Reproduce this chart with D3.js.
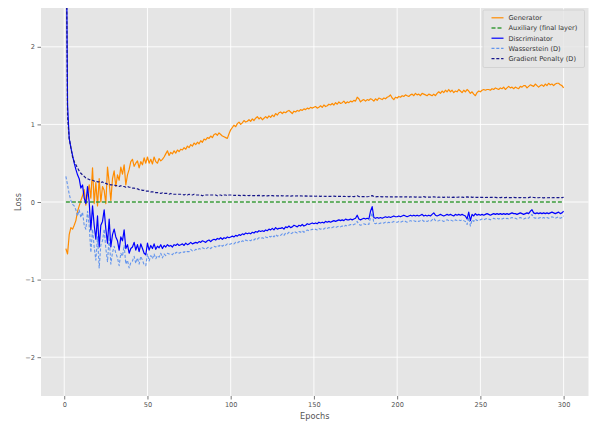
<!DOCTYPE html>
<html>
<head>
<meta charset="utf-8">
<script src="https://cdn.jsdelivr.net/npm/d3@7"></script>
<style>
  html, body { margin: 0; padding: 0; background: #ffffff; }
  svg { display: block; font-family: "DejaVu Sans", sans-serif; }
</style>
</head>
<body>
<svg id="chart" width="598" height="421"></svg>
<script>
// ---------------- DATA ----------------
const epochs = d3.range(1, 301);

const generator = [
-0.60,-0.67,-0.42,-0.33,-0.35,-0.30,-0.24,-0.12,-0.05,0.02,
0.08,0.16,-0.04,0.10,0.22,0.05,0.44,-0.02,0.25,-0.05,
0.30,0.00,0.20,0.15,-0.02,0.45,0.25,0.02,0.30,0.40,
0.20,0.35,0.28,0.45,0.36,0.48,0.22,0.35,0.42,0.52,
0.55,0.46,0.50,0.53,0.44,0.52,0.48,0.57,0.50,0.58,
0.50,0.55,0.49,0.58,0.52,0.50,0.56,0.53,0.55,0.58,
0.62,0.66,0.60,0.64,0.62,0.66,0.63,0.67,0.65,0.68,
0.67,0.70,0.68,0.72,0.70,0.74,0.72,0.76,0.74,0.77,
0.75,0.79,0.77,0.81,0.80,0.83,0.82,0.85,0.83,0.87,
0.88,0.86,0.89,0.87,0.85,0.84,0.83,0.82,0.88,0.93,
0.96,0.99,0.97,1.01,1.03,1.00,1.02,1.05,1.03,1.04,
1.06,1.04,1.07,1.05,1.08,1.10,1.07,1.09,1.06,1.08,
1.10,1.08,1.11,1.09,1.12,1.10,1.14,1.12,1.15,1.16,
1.14,1.16,1.15,1.17,1.18,1.16,1.14,1.17,1.16,1.18,
1.17,1.19,1.18,1.20,1.19,1.21,1.20,1.22,1.21,1.22,
1.23,1.21,1.22,1.24,1.22,1.25,1.23,1.24,1.26,1.25,
1.27,1.25,1.28,1.26,1.29,1.27,1.28,1.30,1.27,1.29,
1.28,1.30,1.29,1.31,1.30,1.35,1.33,1.29,1.31,1.32,
1.30,1.32,1.31,1.33,1.32,1.30,1.33,1.31,1.34,1.33,
1.32,1.34,1.33,1.35,1.36,1.38,1.34,1.32,1.35,1.34,
1.36,1.35,1.37,1.36,1.38,1.37,1.36,1.38,1.39,1.37,
1.40,1.38,1.39,1.37,1.40,1.39,1.38,1.37,1.39,1.38,
1.37,1.39,1.37,1.40,1.42,1.40,1.43,1.41,1.44,1.42,
1.45,1.42,1.44,1.41,1.43,1.42,1.45,1.43,1.41,1.44,
1.42,1.45,1.43,1.40,1.42,1.39,1.37,1.41,1.43,1.42,
1.44,1.45,1.44,1.45,1.45,1.44,1.46,1.45,1.47,1.46,
1.45,1.47,1.46,1.48,1.45,1.47,1.49,1.47,1.48,1.46,
1.48,1.47,1.46,1.49,1.48,1.50,1.50,1.47,1.49,1.51,
1.50,1.49,1.52,1.50,1.48,1.50,1.51,1.49,1.52,1.50,
1.53,1.51,1.52,1.50,1.52,1.53,1.53,1.51,1.50,1.47
];

const auxiliary = [
0,0,0,0,0,0,0,0,0,0, 0,0,0,0,0,0,0,0,0,0, 0,0,0,0,0,0,0,0,0,0,
0,0,0,0,0,0,0,0,0,0, 0,0,0,0,0,0,0,0,0,0, 0,0,0,0,0,0,0,0,0,0,
0,0,0,0,0,0,0,0,0,0, 0,0,0,0,0,0,0,0,0,0, 0,0,0,0,0,0,0,0,0,0,
0,0,0,0,0,0,0,0,0,0, 0,0,0,0,0,0,0,0,0,0, 0,0,0,0,0,0,0,0,0,0,
0,0,0,0,0,0,0,0,0,0, 0,0,0,0,0,0,0,0,0,0, 0,0,0,0,0,0,0,0,0,0,
0,0,0,0,0,0,0,0,0,0, 0,0,0,0,0,0,0,0,0,0, 0,0,0,0,0,0,0,0,0,0,
0,0,0,0,0,0,0,0,0,0, 0,0,0,0,0,0,0,0,0,0, 0,0,0,0,0,0,0,0,0,0,
0,0,0,0,0,0,0,0,0,0, 0,0,0,0,0,0,0,0,0,0, 0,0,0,0,0,0,0,0,0,0,
0,0,0,0,0,0,0,0,0,0, 0,0,0,0,0,0,0,0,0,0, 0,0,0,0,0,0,0,0,0,0,
0,0,0,0,0,0,0,0,0,0, 0,0,0,0,0,0,0,0,0,0, 0,0,0,0,0,0,0,0,0,0
];

const discriminator = [
4.20,1.25,0.82,0.70,0.60,0.50,0.42,0.35,0.30,0.18,
0.22,0.05,-0.02,0.20,0.00,-0.36,-0.05,-0.30,-0.48,-0.18,
-0.58,-0.30,-0.25,-0.10,-0.35,-0.53,-0.22,-0.58,-0.42,-0.35,
-0.45,-0.50,-0.62,-0.45,-0.50,-0.36,-0.60,-0.55,-0.66,-0.60,
-0.58,-0.52,-0.62,-0.55,-0.64,-0.54,-0.60,-0.66,-0.68,-0.53,
-0.62,-0.56,-0.60,-0.54,-0.61,-0.57,-0.59,-0.55,-0.60,-0.56,
-0.58,-0.55,-0.57,-0.56,-0.58,-0.55,-0.56,-0.54,-0.56,-0.55,
-0.54,-0.56,-0.53,-0.55,-0.54,-0.52,-0.54,-0.53,-0.52,-0.53,
-0.51,-0.52,-0.50,-0.51,-0.52,-0.50,-0.49,-0.51,-0.49,-0.48,
-0.49,-0.47,-0.48,-0.46,-0.48,-0.46,-0.47,-0.45,-0.46,-0.45,
-0.44,-0.45,-0.43,-0.44,-0.42,-0.43,-0.41,-0.42,-0.40,-0.41,
-0.40,-0.41,-0.39,-0.40,-0.38,-0.39,-0.37,-0.38,-0.37,-0.38,
-0.36,-0.37,-0.35,-0.36,-0.34,-0.36,-0.33,-0.35,-0.34,-0.34,
-0.33,-0.35,-0.32,-0.33,-0.31,-0.33,-0.32,-0.30,-0.31,-0.32,
-0.30,-0.31,-0.29,-0.31,-0.30,-0.28,-0.29,-0.28,-0.27,-0.28,
-0.27,-0.28,-0.26,-0.27,-0.26,-0.27,-0.25,-0.26,-0.25,-0.26,
-0.25,-0.24,-0.25,-0.24,-0.23,-0.24,-0.23,-0.24,-0.22,-0.23,
-0.23,-0.22,-0.23,-0.22,-0.21,-0.17,-0.22,-0.23,-0.22,-0.21,
-0.22,-0.21,-0.22,-0.12,-0.06,-0.20,-0.21,-0.20,-0.21,-0.20,
-0.21,-0.20,-0.19,-0.20,-0.19,-0.20,-0.19,-0.18,-0.19,-0.19,
-0.18,-0.19,-0.18,-0.17,-0.18,-0.19,-0.18,-0.17,-0.18,-0.17,
-0.18,-0.17,-0.18,-0.17,-0.16,-0.18,-0.17,-0.18,-0.17,-0.18,
-0.16,-0.14,-0.17,-0.18,-0.17,-0.16,-0.17,-0.18,-0.17,-0.16,
-0.17,-0.16,-0.17,-0.18,-0.16,-0.17,-0.16,-0.17,-0.16,-0.17,
-0.18,-0.22,-0.13,-0.24,-0.16,-0.18,-0.15,-0.17,-0.16,-0.17,
-0.16,-0.17,-0.16,-0.15,-0.16,-0.17,-0.16,-0.15,-0.16,-0.15,
-0.16,-0.15,-0.16,-0.15,-0.16,-0.15,-0.16,-0.15,-0.14,-0.15,
-0.15,-0.16,-0.15,-0.14,-0.15,-0.16,-0.15,-0.14,-0.15,-0.12,
-0.10,-0.14,-0.15,-0.14,-0.15,-0.14,-0.15,-0.14,-0.15,-0.14,
-0.15,-0.14,-0.13,-0.14,-0.15,-0.14,-0.13,-0.15,-0.14,-0.12
];

const wasserstein = [
0.33,0.22,0.10,0.02,-0.03,-0.05,-0.10,-0.18,-0.10,-0.20,
-0.13,-0.30,-0.35,-0.12,-0.30,-0.65,-0.35,-0.58,-0.75,-0.45,
-0.85,-0.55,-0.50,-0.35,-0.60,-0.77,-0.45,-0.80,-0.65,-0.57,
-0.66,-0.72,-0.82,-0.66,-0.70,-0.56,-0.80,-0.75,-0.85,-0.78,
-0.76,-0.70,-0.79,-0.72,-0.80,-0.70,-0.75,-0.81,-0.82,-0.67,
-0.76,-0.69,-0.73,-0.67,-0.73,-0.69,-0.71,-0.66,-0.72,-0.67,
-0.69,-0.66,-0.67,-0.67,-0.68,-0.65,-0.66,-0.64,-0.66,-0.65,
-0.64,-0.65,-0.63,-0.64,-0.64,-0.61,-0.63,-0.63,-0.61,-0.62,
-0.60,-0.61,-0.59,-0.60,-0.61,-0.59,-0.58,-0.60,-0.58,-0.57,
-0.58,-0.56,-0.57,-0.55,-0.57,-0.55,-0.56,-0.54,-0.55,-0.54,
-0.53,-0.54,-0.52,-0.53,-0.51,-0.52,-0.50,-0.51,-0.49,-0.50,
-0.49,-0.50,-0.48,-0.49,-0.47,-0.48,-0.46,-0.47,-0.46,-0.47,
-0.45,-0.46,-0.44,-0.45,-0.43,-0.45,-0.42,-0.44,-0.43,-0.43,
-0.41,-0.43,-0.40,-0.41,-0.39,-0.41,-0.40,-0.38,-0.39,-0.40,
-0.38,-0.39,-0.37,-0.39,-0.38,-0.36,-0.37,-0.36,-0.35,-0.36,
-0.35,-0.36,-0.34,-0.35,-0.34,-0.35,-0.33,-0.34,-0.33,-0.34,
-0.33,-0.32,-0.33,-0.32,-0.31,-0.32,-0.31,-0.32,-0.30,-0.31,
-0.30,-0.29,-0.30,-0.29,-0.28,-0.25,-0.29,-0.30,-0.29,-0.28,
-0.29,-0.28,-0.29,-0.20,-0.14,-0.27,-0.28,-0.27,-0.28,-0.27,
-0.28,-0.27,-0.26,-0.27,-0.26,-0.27,-0.26,-0.25,-0.26,-0.26,
-0.25,-0.26,-0.25,-0.24,-0.25,-0.26,-0.25,-0.24,-0.25,-0.24,
-0.25,-0.24,-0.25,-0.24,-0.23,-0.25,-0.24,-0.25,-0.24,-0.25,
-0.23,-0.21,-0.24,-0.25,-0.24,-0.23,-0.24,-0.25,-0.24,-0.23,
-0.24,-0.23,-0.24,-0.25,-0.23,-0.24,-0.23,-0.24,-0.23,-0.24,
-0.25,-0.29,-0.20,-0.31,-0.23,-0.25,-0.22,-0.24,-0.23,-0.23,
-0.22,-0.23,-0.22,-0.21,-0.22,-0.23,-0.22,-0.21,-0.22,-0.21,
-0.22,-0.21,-0.22,-0.21,-0.22,-0.21,-0.22,-0.21,-0.20,-0.21,
-0.21,-0.22,-0.21,-0.20,-0.21,-0.22,-0.21,-0.20,-0.21,-0.18,
-0.16,-0.20,-0.21,-0.20,-0.21,-0.20,-0.21,-0.20,-0.21,-0.20,
-0.21,-0.20,-0.19,-0.20,-0.21,-0.20,-0.19,-0.21,-0.20,-0.18
];

const gradientPenalty = [
4.00,1.10,0.82,0.70,0.58,0.52,0.48,0.44,0.40,0.37,
0.35,0.33,0.31,0.30,0.29,0.28,0.28,0.27,0.27,0.26,
0.26,0.25,0.26,0.24,0.24,0.23,0.23,0.22,0.22,0.22,
0.21,0.21,0.20,0.21,0.20,0.20,0.19,0.20,0.19,0.19,
0.18,0.18,0.17,0.17,0.16,0.16,0.15,0.15,0.14,0.14,
0.14,0.13,0.13,0.13,0.12,0.12,0.12,0.11,0.12,0.11,
0.11,0.11,0.10,0.11,0.10,0.10,0.10,0.10,0.10,0.10,
0.10,0.09,0.10,0.09,0.10,0.09,0.09,0.10,0.09,0.09,
0.09,0.09,0.08,0.09,0.09,0.09,0.09,0.09,0.09,0.09,
0.09,0.08,0.09,0.09,0.08,0.09,0.09,0.08,0.09,0.09,
0.088,0.085,0.087,0.084,0.086,0.083,0.085,0.086,0.082,0.084,
0.083,0.085,0.082,0.084,0.081,0.083,0.085,0.082,0.080,0.083,
0.081,0.079,0.082,0.080,0.083,0.079,0.081,0.078,0.080,0.082,
0.079,0.081,0.077,0.080,0.078,0.076,0.079,0.081,0.077,0.078,
0.076,0.079,0.077,0.075,0.078,0.076,0.074,0.077,0.075,0.076,
0.074,0.077,0.075,0.073,0.076,0.074,0.072,0.075,0.073,0.074,
0.072,0.075,0.073,0.071,0.074,0.072,0.070,0.073,0.071,0.072,
0.070,0.073,0.071,0.069,0.072,0.080,0.070,0.068,0.071,0.069,
0.070,0.068,0.071,0.079,0.082,0.069,0.067,0.070,0.068,0.069,
0.067,0.070,0.068,0.066,0.069,0.067,0.065,0.068,0.066,0.067,
0.065,0.068,0.066,0.064,0.067,0.065,0.063,0.066,0.064,0.065,
0.063,0.066,0.064,0.062,0.065,0.070,0.063,0.061,0.064,0.062,
0.063,0.068,0.062,0.060,0.063,0.061,0.064,0.060,0.062,0.063,
0.061,0.063,0.060,0.062,0.059,0.061,0.063,0.060,0.062,0.059,
0.061,0.066,0.064,0.067,0.060,0.062,0.059,0.061,0.058,0.060,
0.059,0.061,0.058,0.060,0.057,0.059,0.061,0.058,0.060,0.057,
0.059,0.057,0.060,0.058,0.056,0.059,0.057,0.058,0.056,0.059,
0.057,0.055,0.058,0.056,0.059,0.057,0.055,0.058,0.056,0.062,
0.064,0.058,0.056,0.057,0.055,0.058,0.056,0.054,0.057,0.055,
0.056,0.058,0.055,0.057,0.054,0.056,0.058,0.055,0.057,0.060
];

const xTicks = [0, 50, 100, 150, 200, 250, 300];
const yTicks = [-2, -1, 0, 1, 2];
const seriesNames = ["Generator", "Auxiliary (final layer)", "Discriminator", "Wasserstein (D)", "Gradient Penalty (D)"];

// ---------------- STYLES ----------------
const seriesStyle = {
  "Generator":               { color: "#ff8c00", dash: null,  width: 1.2 },
  "Auxiliary (final layer)": { color: "#3a9a3a", dash: "4,2", width: 1.3 },
  "Discriminator":           { color: "#0000ff", dash: null,  width: 1.2 },
  "Wasserstein (D)":         { color: "#6495ed", dash: "3,1.8", width: 1.1 },
  "Gradient Penalty (D)":    { color: "#16168a", dash: "3,1.8", width: 1.2 }
};
const seriesData = {
  "Generator": generator,
  "Auxiliary (final layer)": auxiliary,
  "Discriminator": discriminator,
  "Wasserstein (D)": wasserstein,
  "Gradient Penalty (D)": gradientPenalty
};

// ---------------- LAYOUT ----------------
const svg = d3.select("#chart");
const plot = { left: 41, right: 588.5, top: 8, bottom: 396 };

const x = d3.scaleLinear().domain([-13.95, 314.95]).range([plot.left, plot.right]);
const y = d3.scaleLinear().domain([-2.5, 2.5]).range([plot.bottom, plot.top]);

svg.append("rect")
  .attr("x", plot.left).attr("y", plot.top)
  .attr("width", plot.right - plot.left).attr("height", plot.bottom - plot.top)
  .attr("fill", "#e5e5e5");

svg.append("defs").append("clipPath").attr("id", "clip")
  .append("rect")
  .attr("x", plot.left).attr("y", plot.top)
  .attr("width", plot.right - plot.left).attr("height", plot.bottom - plot.top);

// grid
const grid = svg.append("g");
grid.selectAll("line.vx").data(xTicks).join("line")
  .attr("x1", d => x(d)).attr("x2", d => x(d))
  .attr("y1", plot.top).attr("y2", plot.bottom)
  .attr("stroke", "#ffffff").attr("stroke-width", 0.9);
grid.selectAll("line.hy").data(yTicks).join("line")
  .attr("y1", d => y(d)).attr("y2", d => y(d))
  .attr("x1", plot.left).attr("x2", plot.right)
  .attr("stroke", "#ffffff").attr("stroke-width", 0.9);

// axes
const fmt = d => d < 0 ? "\u2212" + Math.abs(d) : String(d);
const xAxis = d3.axisBottom(x).tickValues(xTicks).tickFormat(fmt).tickSize(3.5).tickPadding(2.5);
const yAxis = d3.axisLeft(y).tickValues(yTicks).tickFormat(fmt).tickSize(3.5).tickPadding(2.5);

const gx = svg.append("g").attr("transform", `translate(0,${plot.bottom})`).call(xAxis);
const gy = svg.append("g").attr("transform", `translate(${plot.left},0)`).call(yAxis);
[gx, gy].forEach(g => {
  g.select(".domain").remove();
  g.selectAll(".tick line").attr("stroke", "#555555").attr("stroke-width", 0.8);
  g.selectAll(".tick text").attr("fill", "#555555")
    .style("font-size", "6.6px").style("font-family", "DejaVu Sans, sans-serif");
});

svg.append("text")
  .attr("x", (plot.left + plot.right) / 2).attr("y", 418.5)
  .attr("text-anchor", "middle").attr("fill", "#555555")
  .style("font-size", "8.2px").text("Epochs");
svg.append("text")
  .attr("transform", `translate(20.5,${(plot.top + plot.bottom) / 2}) rotate(-90)`)
  .attr("text-anchor", "middle").attr("fill", "#555555")
  .style("font-size", "8.2px").text("Loss");

// lines
const lineGen = d3.line().x(d => x(d[0])).y(d => y(d[1]));
const lines = svg.append("g").attr("clip-path", "url(#clip)");
seriesNames.forEach(name => {
  const st = seriesStyle[name];
  const pts = epochs.map((e, i) => [e, seriesData[name][i]]);
  lines.append("path")
    .datum(pts)
    .attr("d", lineGen)
    .attr("fill", "none")
    .attr("stroke", st.color)
    .attr("stroke-width", st.width)
    .attr("stroke-linejoin", "round")
    .attr("stroke-dasharray", st.dash);
});

// legend
const lg = svg.append("g");
const lgBox = { x: 483, y: 10, w: 101.5, h: 57.5 };
lg.append("rect")
  .attr("x", lgBox.x).attr("y", lgBox.y).attr("width", lgBox.w).attr("height", lgBox.h)
  .attr("rx", 1.5).attr("fill", "#e5e5e5").attr("fill-opacity", 0.8)
  .attr("stroke", "#cccccc").attr("stroke-width", 0.7);
const rowH = 10.2;
seriesNames.forEach((name, i) => {
  const st = seriesStyle[name];
  const cy = 17.8 + i * rowH;
  lg.append("line")
    .attr("x1", 491.5).attr("x2", 503.5).attr("y1", cy).attr("y2", cy)
    .attr("stroke", st.color).attr("stroke-width", st.width)
    .attr("stroke-dasharray", st.dash);
  lg.append("text")
    .attr("x", 508.5).attr("y", cy).attr("dy", "0.35em")
    .attr("fill", "#333333").style("font-size", "6.6px").text(name);
});
</script>
</body>
</html>
